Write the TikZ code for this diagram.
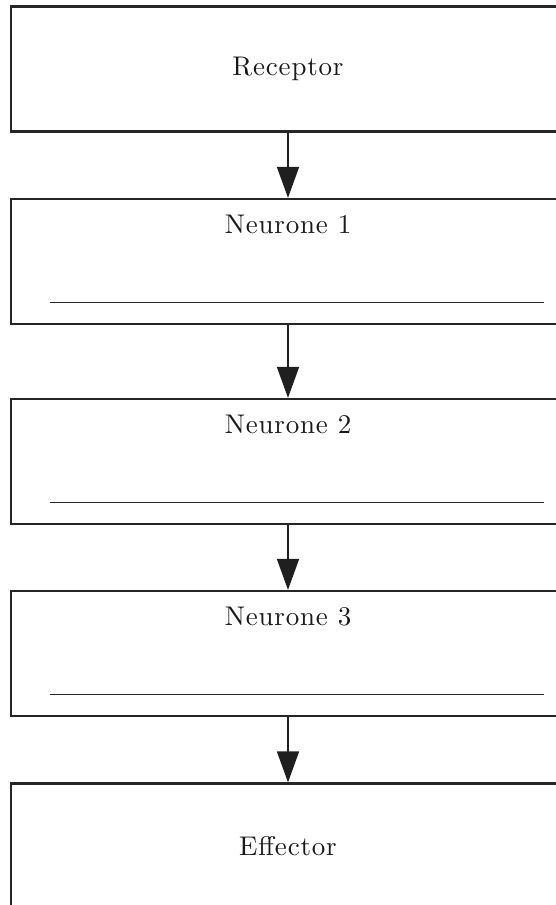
\documentclass[tikz,border=0pt]{standalone}
\usepackage{fontspec}
\setmainfont{lmroman10-regular.otf}[LetterSpace=3]
\usetikzlibrary{arrows.meta}
\tikzset{
    stage/.style={draw=black!85, line width=2.2pt, rectangle, minimum width=554pt,
        minimum height=125pt, inner sep=0pt},
    stagetext/.style={font=\fontsize{27}{31}\selectfont, text=black!90},
    relay/.style={draw=black!88, line width=1.6pt,
        -{Triangle[width=22pt,length=31pt]}},
    blank/.style={draw=black!85, line width=1.2pt}
}
\begin{document}
\begin{tikzpicture}[x=1pt,y=1pt]
\useasboundingbox (0,0) rectangle (555,-905);
\node[stage] (receptor) at (288,-69) {};
\node[stage] (neurone1) at (288,-261.5) {};
\node[stage] (neurone2) at (288,-461.5) {};
\node[stage] (neurone3) at (288,-653.5) {};
\node[stage] (effector) at (288,-846) {};
% labels
\node[stagetext] (receptortext) at (receptor.center) {Receptor};
\node[stagetext, anchor=base, yshift=-36pt] (neurone1text) at (neurone1.north) {Neurone 1};
\node[stagetext, anchor=base, yshift=-36pt] (neurone2text) at (neurone2.north) {Neurone 2};
\node[stagetext, anchor=base, yshift=-36pt] (neurone3text) at (neurone3.north) {Neurone 3};
\node[stagetext] (effectortext) at (effector.center) {Effector};
% blank lines to write on
\foreach \n in {neurone1,neurone2,neurone3}
    \draw[blank] ([xshift=40pt,yshift=23pt]\n.south west) -- ([xshift=-22pt,yshift=23pt]\n.south east);
% connections
\draw[relay] (receptor) -- (neurone1);
\draw[relay] (neurone1) -- (neurone2);
\draw[relay] (neurone2) -- (neurone3);
\draw[relay] (neurone3) -- (effector);
\end{tikzpicture}
\end{document}
